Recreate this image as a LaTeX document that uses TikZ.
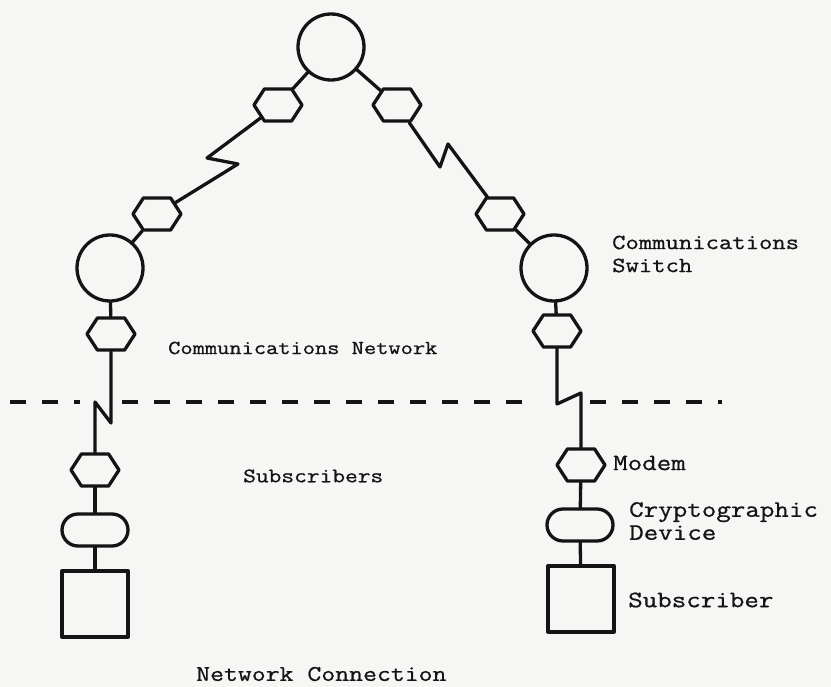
\documentclass[tikz,border=0pt]{standalone}
\usepackage{fontspec}
\newfontfamily\tw[FakeStretch=1.2, FakeBold=0.8]{Latin Modern Mono}
\usetikzlibrary{shapes.symbols,shapes.misc}
\definecolor{paper}{RGB}{246,246,245}
\definecolor{inkc}{RGB}{20,20,20}
\begin{document}
\begin{tikzpicture}[x=1pt,y=-1pt, line join=round, line cap=round,
  ink/.style={line width=3.3pt, draw=inkc},
  sw/.style={circle, ink, minimum size=66pt, inner sep=0},
  hexbox/.style={signal, signal to=east and west, signal pointer angle=114,
    ink, minimum width=48pt, minimum height=32pt, inner sep=0},
  crypto/.style={rounded rectangle, ink, minimum width=66pt, minimum height=32pt, inner sep=0},
  subbox/.style={rectangle, ink, minimum size=66pt, inner sep=0},
  wire/.style={ink},
  dashline/.style={line width=3.3pt, draw=inkc, dash pattern=on 16pt off 16pt, line cap=butt},
  lbl/.style={inner sep=0, anchor=west, text=inkc, align=left,
    font=\tw\fontsize{#1}{23}\selectfont},
]
\useasboundingbox (0,0) rectangle (831,687);
\fill[paper] (0,0) rectangle (831,687);

% switches
\node[sw] (top) at (331,47) {};
\node[sw] (swL) at (110,268) {};
\node[sw] (swR) at (554,268) {};

% modems on the trunk lines
\node[hexbox] (hL1) at (278,105) {};
\node[hexbox] (hR1) at (397,105) {};
\node[hexbox] (hL2) at (157,214) {};
\node[hexbox] (hR2) at (500,214) {};
\node[hexbox] (hL3) at (111,334) {};
\node[hexbox] (hR3) at (557,331) {};

% subscriber side
\node[hexbox] (hL4) at (95,470) {};
\node[hexbox] (hR4) at (581,465) {};
\node[crypto] (cL) at (95,530) {};
\node[crypto] (cR) at (580,525) {};
\node[subbox] (sL) at (95,604) {};
\node[subbox] (sR) at (581,599) {};

% zigzag (link) points
\coordinate (zL1) at (238,164);
\coordinate (zL2) at (207,158);
\coordinate (zR1) at (440,167);
\coordinate (zR2) at (448,144);
\coordinate (zL3) at (111,423);
\coordinate (zL4) at (95,402);
\coordinate (zR3) at (557,404);
\coordinate (zR4) at (581,393);

% connectors
\draw[wire] (top) -- (hL1);
\draw[wire] (top) -- (hR1);
\draw[wire] (hL1) -- (zL2) -- (zL1) -- (hL2);
\draw[wire] (hR1) -- (zR1) -- (zR2) -- (hR2);
\draw[wire] (hL2) -- (swL);
\draw[wire] (hR2) -- (swR);
\draw[wire] (swL) -- (hL3);
\draw[wire] (swR) -- (hR3);
\draw[wire] (hL3) -- (zL3) -- (zL4) -- (hL4);
\draw[wire] (hR3) -- (zR3) -- (zR4) -- (hR4);
\draw[wire] (hL4) -- (cL);
\draw[wire] (hR4) -- (cR);
\draw[wire] (cL) -- (sL);
\draw[wire] (cR) -- (sR);

% boundary between network and subscribers
\coordinate (d1) at (10,402);
\coordinate (d2) at (80,402);
\coordinate (d3) at (122,402);
\coordinate (d4) at (528,402);
\coordinate (d5) at (590,402);
\coordinate (d6) at (722,402);
\draw[dashline] (d1) -- (d2);
\draw[dashline] (d3) -- (d4);
\draw[dashline] (d5) -- (d6);

% labels
\node[lbl=19.8] (tNet) at (168,348) {Communications Network};
\node[lbl=20.6] (tSubs) at (243,476) {Subscribers};
\node[lbl=21.6] (tSw) at (612,254) {Communications\\Switch};
\node[lbl=23.5] (tModem) at (613,463) {Modem};
\node[lbl=23.5] (tCrypto) at (629,521) {Cryptographic\\Device};
\node[lbl=23.5] (tSub) at (628,600) {Subscriber};
\node[lbl=22.5] (tConn) at (196,674) {Network Connection};
\end{tikzpicture}
\end{document}
